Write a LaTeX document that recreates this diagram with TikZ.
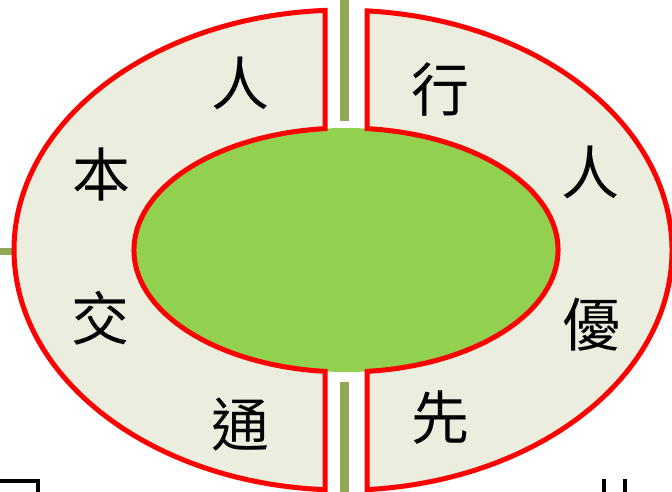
\documentclass[tikz,border=0pt]{standalone}
\usepackage{fontspec}
\usetikzlibrary{shapes.geometric}
\newfontfamily\cjk{Noto Sans CJK TC}
\definecolor{halffill}{HTML}{EBEEDE}
\definecolor{innergreen}{HTML}{92D050}
\definecolor{olive}{HTML}{8FA853}
\definecolor{ringred}{HTML}{FF0000}
\tikzset{
  half/.style={fill=halffill, draw=ringred, line width=5pt, line join=miter},
  inner/.style={fill=innergreen, draw=none},
  stem/.style={draw=olive, line width=9pt},
  lab/.style={font=\cjk\fontsize{58}{58}\selectfont, inner sep=0pt},
  frag/.style={draw=black, line width=4pt}
}
\begin{document}
\begin{tikzpicture}[x=1pt,y=1pt]
\useasboundingbox (0,0) rectangle (672,492);
% olive stems
\coordinate (st1) at (344.5,492);
\coordinate (st2) at (344.5,371);
\coordinate (sb1) at (344.5,110);
\coordinate (sb2) at (344.5,0);
\coordinate (sl1) at (0,240.5);
\coordinate (sl2) at (16,240.5);
\draw[stem] (st1) -- (st2);
\draw[stem] (sb1) -- (sb2);
\draw[draw=olive, line width=7pt] (sl1) -- (sl2);
% inner ellipse (green, its red edge comes from the two halves)
\node[inner, ellipse, minimum width=424pt, minimum height=244pt, inner sep=0pt] (core) at (346,242) {};
% left half
\path[half] (325,481.6) arc[start angle=93.14, end angle=266.86, x radius=329, y radius=240]
  -- (325,120.6) arc[start angle=264.32, end angle=95.68, x radius=212, y radius=122] -- cycle;
% right half
\path[half] (367,2.4) arc[start angle=-85.82, end angle=85.82, x radius=329, y radius=240]
  -- (367,363.4) arc[start angle=84.32, end angle=-84.32, x radius=212, y radius=122] -- cycle;
% labels
\node[lab] (l1) at (240,409) {人};
\node[lab] (l2) at (101,318) {本};
\node[lab] (l3) at (100,174) {交};
\node[lab] (l4) at (240,67) {通};
\node[lab] (r1) at (440,402) {行};
\node[lab] (r2) at (590,320) {人};
\node[lab] (r3) at (591,167) {優};
\node[lab] (r4) at (440,74) {先};
% cut-off fragments at the bottom edge
\coordinate (fa) at (0,11);
\coordinate (fb) at (38,11);
\coordinate (fc) at (38,0);
\draw[frag, line join=miter] (fa) -- (fb) -- (fc);
\coordinate (fd) at (604,13);
\coordinate (fe) at (604,0);
\coordinate (ff) at (625,13);
\coordinate (fg) at (625,0);
\draw[frag] (fd) -- (fe);
\draw[frag] (ff) -- (fg);
\end{tikzpicture}
\end{document}
